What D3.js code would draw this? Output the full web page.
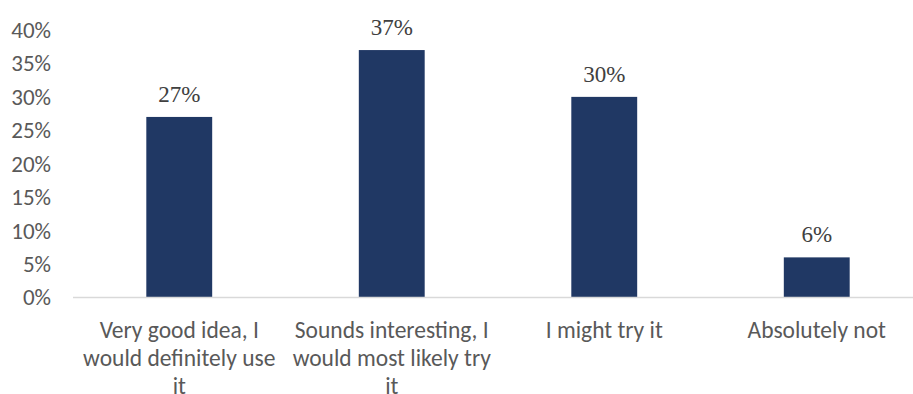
<!DOCTYPE html>
<html>
<head>
<meta charset="utf-8">
<script src="https://cdn.jsdelivr.net/npm/d3@7"></script>
<style>
  html, body { margin: 0; padding: 0; background: #fff; }
  svg { display: block; }
</style>
</head>
<body>
<svg id="chart" width="913" height="394"></svg>
<script>
// Survey answers and their shares (percent)
const categories = [
  "Very good idea, I would definitely use it",
  "Sounds interesting, I would most likely try it",
  "I might try it",
  "Absolutely not"
];
const shares = [27, 37, 30, 6];
const yTicks = [0, 5, 10, 15, 20, 25, 30, 35, 40];

const data = categories.map((c, i) => ({ category: c, value: shares[i] }));

const svg = d3.select("#chart");
const W = 913, H = 394;
const plot = { left: 73, right: 923, top: 30, bottom: 297.5 };

const x = d3.scaleBand()
  .domain(categories)
  .range([plot.left, plot.right])
  .paddingInner(0.69)
  .paddingOuter(0.345);

const y = d3.scaleLinear()
  .domain([0, 40])
  .range([plot.bottom, plot.top]);

const axisFont = "Carlito, Calibri, Lato, sans-serif";
const axisColor = "#595959";

// Y axis tick labels (no axis line, no ticks)
const yAxis = svg.append("g")
  .attr("transform", `translate(${plot.left - 22},0)`)
  .call(d3.axisLeft(y).tickValues(yTicks).tickSize(0).tickPadding(0).tickFormat(d => d + "%"));
yAxis.select(".domain").remove();
yAxis.selectAll("text")
  .attr("font-family", axisFont)
  .attr("font-size", 23)
  .attr("fill", axisColor);

// Bars
svg.append("g").selectAll("rect")
  .data(data)
  .join("rect")
  .attr("x", d => x(d.category))
  .attr("y", d => y(d.value))
  .attr("width", x.bandwidth())
  .attr("height", d => y(0) - y(d.value))
  .attr("fill", "#203864");

// Baseline
svg.append("line")
  .attr("x1", plot.left).attr("x2", W)
  .attr("y1", y(0)).attr("y2", y(0))
  .attr("stroke", "#d9d9d9")
  .attr("stroke-width", 1.5);

// Value labels above bars
svg.append("g").selectAll("text")
  .data(data)
  .join("text")
  .attr("x", d => x(d.category) + x.bandwidth() / 2)
  .attr("y", d => y(d.value) - 15)
  .attr("text-anchor", "middle")
  .attr("font-family", "'Liberation Serif', 'Times New Roman', serif")
  .attr("font-size", 23)
  .attr("fill", "#404040")
  .text(d => d.value + "%");

// Category labels, wrapped to the band
const xAxis = svg.append("g")
  .attr("transform", `translate(0,${y(0)})`)
  .call(d3.axisBottom(x).tickSize(0).tickPadding(0));
xAxis.select(".domain").remove();
xAxis.selectAll("text")
  .attr("font-family", axisFont)
  .attr("font-size", 23.5)
  .attr("fill", axisColor)
  .attr("dy", null)
  .attr("y", 40)
  .call(wrap, 204, 28);

function wrap(sel, width, lineHeight) {
  sel.each(function () {
    const text = d3.select(this);
    const words = text.text().split(/\s+/);
    const y0 = +text.attr("y");
    text.text(null);
    let line = [];
    let lineNo = 0;
    let tspan = text.append("tspan").attr("x", 0).attr("y", y0);
    for (const w of words) {
      line.push(w);
      tspan.text(line.join(" "));
      if (tspan.node().getComputedTextLength() > width && line.length > 1) {
        line.pop();
        tspan.text(line.join(" "));
        line = [w];
        lineNo++;
        tspan = text.append("tspan").attr("x", 0).attr("y", y0 + lineNo * lineHeight).text(w);
      }
    }
  });
}
</script>
</body>
</html>
